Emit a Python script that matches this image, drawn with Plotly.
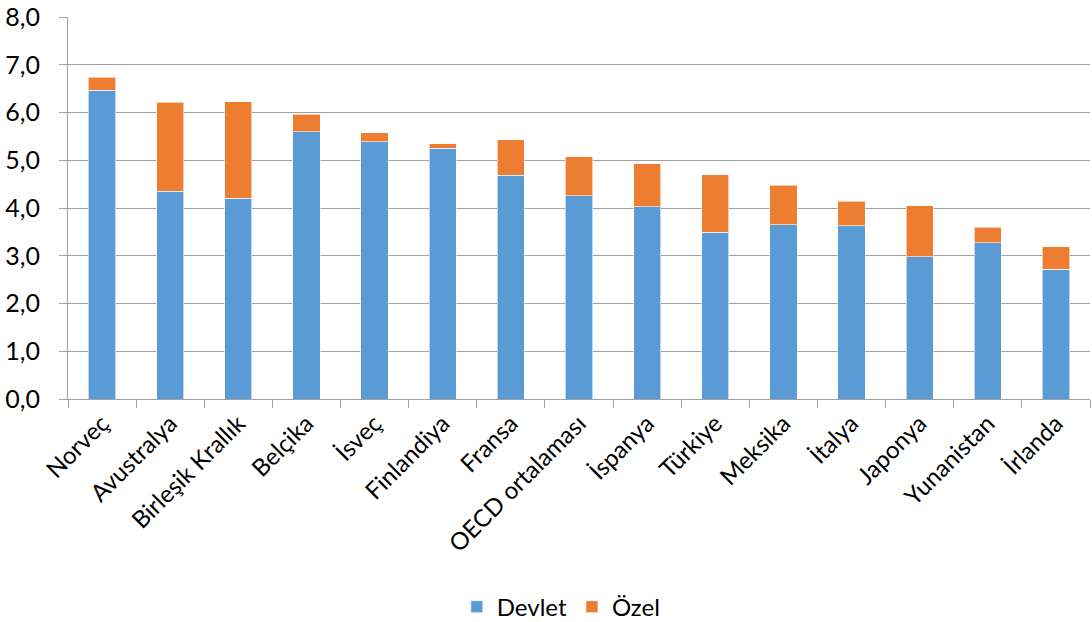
import plotly.graph_objects as go

categories = ["Norveç", "Avustralya", "Birleşik Krallık", "Belçika", "İsveç", "Finlandiya",
              "Fransa", "OECD ortalaması", "İspanya", "Türkiye", "Meksika", "İtalya",
              "Japonya", "Yunanistan", "İrlanda"]
devlet = [6.47, 4.35, 4.20, 5.60, 5.39, 5.25, 4.69, 4.26, 4.03, 3.49, 3.65, 3.63, 2.98, 3.27, 2.72]
toplam = [6.74, 6.22, 6.23, 5.96, 5.58, 5.35, 5.43, 5.07, 4.93, 4.70, 4.48, 4.14, 4.05, 3.60, 3.19]
ozel = [round(t - d, 2) for t, d in zip(toplam, devlet)]

font_family = "Lato, Open Sans, sans-serif"

fig = go.Figure()
fig.add_trace(go.Bar(name="Devlet", x=categories, y=devlet, marker_color="#5B9BD5",
                     marker_line=dict(color="rgba(255,255,255,0.6)", width=1)))
fig.add_trace(go.Bar(name="Özel", x=categories, y=ozel, marker_color="#ED7D31",
                     marker_line=dict(color="rgba(255,255,255,0.6)", width=1)))

fig.update_layout(
    barmode="stack",
    bargap=0.6,
    width=1092, height=622,
    paper_bgcolor="white", plot_bgcolor="white",
    margin=dict(l=68, r=2, t=17, b=223, autoexpand=False),
    separators=", ",
    font=dict(family=font_family, color="#000000"),
    legend=dict(orientation="h", xref="container", yref="container",
                x=0.514, xanchor="center", y=0.024, yanchor="middle",
                font=dict(size=24), traceorder="normal"),
    showlegend=True,
)
fig.update_yaxes(range=[0, 8], dtick=1, tickformat=".1f", showgrid=True, gridcolor="#A0A0A0",
                 gridwidth=1, showline=True, linecolor="#A0A0A0", ticks="outside", ticklen=8,
                 tickcolor="#A0A0A0", tickfont=dict(size=25), ticklabelstandoff=14,
                 zeroline=False, automargin=False)
fig.update_xaxes(showline=True, linecolor="#A0A0A0", ticks="outside", ticklen=8,
                 tickcolor="#A0A0A0", tickson="boundaries", tickangle=-45,
                 tickfont=dict(size=24), automargin=False)

fig.write_html("out.html", config={"displayModeBar": False},
               post_script="document.body.style.margin='0';document.body.style.overflow='hidden';")
